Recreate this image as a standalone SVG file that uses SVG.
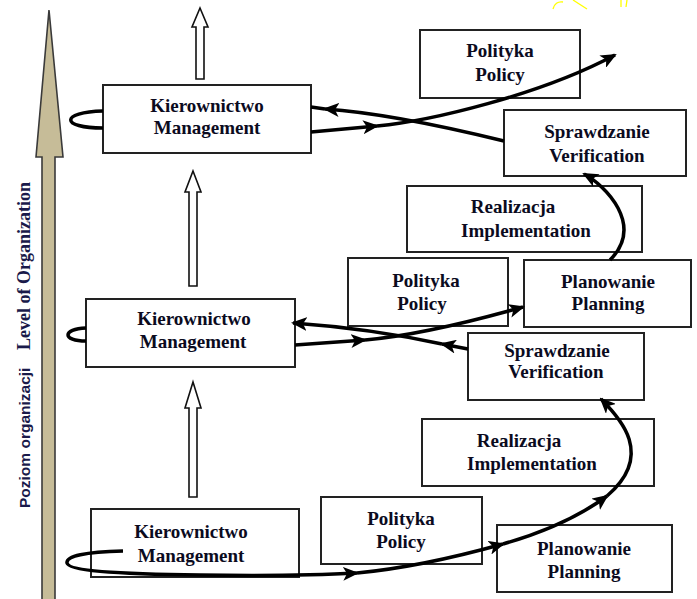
<svg xmlns="http://www.w3.org/2000/svg" width="697" height="599" viewBox="0 0 697 599">
<style>
.box{fill:#fff;stroke:#222;stroke-width:2}
.t{font-family:"Liberation Serif","Times New Roman",serif;font-weight:bold;font-size:19px;fill:#0b0b1e;text-anchor:middle}
.c{fill:none;stroke:#000;stroke-width:3.5}
.ca{fill:none;stroke:#000;stroke-width:3.5;marker-end:url(#ah)}
.ho{fill:#fff;stroke:#111;stroke-width:1.6}
</style>
<defs>
<marker id="ah" viewBox="0 0 16 14" refX="14" refY="7" markerWidth="16" markerHeight="14" markerUnits="userSpaceOnUse" orient="auto"><path d="M0,0 L16,7 L0,14 L4,7 z" fill="#000"/></marker>
</defs>
<rect width="697" height="599" fill="#fff"/>
<g id="yellow-mark" fill="none" stroke="#ffff00" stroke-width="1.3">
<path d="M553,9 C554,4 558,1 563,2"/>
<path d="M573,0 L587,9"/>
<path d="M621,0 L621,7"/>
<path d="M627,0 L626,7"/>
</g>
<g id="axis">
<polygon points="49,10 63,157 55,157 55,602 42,602 42,157 36,157" fill="#c6bc98" stroke="#3a3a3a" stroke-width="1.6"/>
<text transform="translate(30,350) rotate(-90)" font-family="Liberation Serif,serif" font-weight="bold" font-size="18" fill="#1a1a4a">Level of Organization</text>
<text transform="translate(30,508) rotate(-90)" font-family="Liberation Sans,Arial,sans-serif" font-weight="bold" font-size="15.5" fill="#1a1a4a">Poziom organizacji</text>
</g>
<g id="hollow-arrows">
<polygon class="ho" points="200,8 208,27 204,27 204,79 196,79 196,27 192,27"/>
<polygon class="ho" points="193,171 201,192 197,192 197,286 189,286 189,192 185,192"/>
<polygon class="ho" points="193,382 201,408 197,408 197,497 189,497 189,408 185,408"/>
</g>
<g id="n-kier-top"><rect class="box" x="103" y="85" width="208" height="68"/><text class="t" x="207" y="112">Kierownictwo</text><text class="t" x="207" y="134">Management</text></g>
<g id="n-pol-top"><rect class="box" x="420" y="30" width="160" height="68"/><text class="t" x="500" y="57">Polityka</text><text class="t" x="500" y="81">Policy</text></g>
<g id="n-spr-top"><rect class="box" x="504" y="110" width="182" height="66"/><text class="t" x="597" y="138">Sprawdzanie</text><text class="t" x="597" y="162">Verification</text></g>
<g id="n-real-top"><rect class="box" x="407" y="186" width="235" height="66"/><text class="t" x="513" y="213">Realizacja</text><text class="t" x="526" y="237">Implementation</text></g>
<g id="n-pol-mid"><rect class="box" x="348" y="258" width="160" height="68"/><text class="t" x="426" y="287">Polityka</text><text class="t" x="422" y="310">Policy</text></g>
<g id="n-plan-mid"><rect class="box" x="524" y="260" width="167" height="67"/><text class="t" x="608" y="288">Planowanie</text><text class="t" x="608" y="310">Planning</text></g>
<g id="n-spr-mid"><rect class="box" x="468" y="333" width="176" height="67"/><text class="t" x="557" y="357">Sprawdzanie</text><text class="t" x="556" y="378">Verification</text></g>
<g id="n-kier-mid"><rect class="box" x="86" y="299" width="209" height="68"/><text class="t" x="194" y="325">Kierownictwo</text><text class="t" x="193" y="348">Management</text></g>
<g id="n-real-bot"><rect class="box" x="422" y="419" width="232" height="67"/><text class="t" x="519" y="447">Realizacja</text><text class="t" x="532" y="470">Implementation</text></g>
<g id="n-pol-bot"><rect class="box" x="321" y="497" width="161" height="67"/><text class="t" x="401" y="525">Polityka</text><text class="t" x="401" y="548">Policy</text></g>
<g id="n-plan-bot"><rect class="box" x="497" y="525" width="175" height="67"/><text class="t" x="584" y="555">Planowanie</text><text class="t" x="584" y="578">Planning</text></g>
<g id="n-kier-bot"><rect class="box" x="91" y="509" width="208" height="68"/><text class="t" x="191" y="538">Kierownictwo</text><text class="t" x="191" y="562">Management</text></g>
<g id="connectors">
<path class="ca" d="M504,141 C455,129 385,113 325,109"/>
<path class="c" d="M325,109 L311,107"/>
<path class="c" d="M103,111 C60,112 60,128 103,128"/>
<path class="ca" d="M311,132 L377,126"/>
<path class="ca" d="M377,126 C430,121 540,95 615,55"/>
<path class="ca" d="M610,260 C645,225 605,185 584,174"/>
<path class="ca" d="M468,349 L442,344"/>
<path class="ca" d="M442,344 C405,336 350,327 293,323"/>
<path class="c" d="M86,328 C62,329 62,341 86,341"/>
<path class="ca" d="M295,345 L365,340"/>
<path class="ca" d="M365,340 C410,336 470,322 523,307"/>
<path class="ca" d="M123,551 C85,552 66,556 67,563 C68,570 110,574 200,575 C270,576 320,575 357,573"/>
<path class="ca" d="M357,573 C410,568 460,556 503,544"/>
<path class="ca" d="M503,544 C545,532 580,516 607,496"/>
<path class="ca" d="M607,496 C655,455 620,418 601,399"/>
</g>
</svg>
